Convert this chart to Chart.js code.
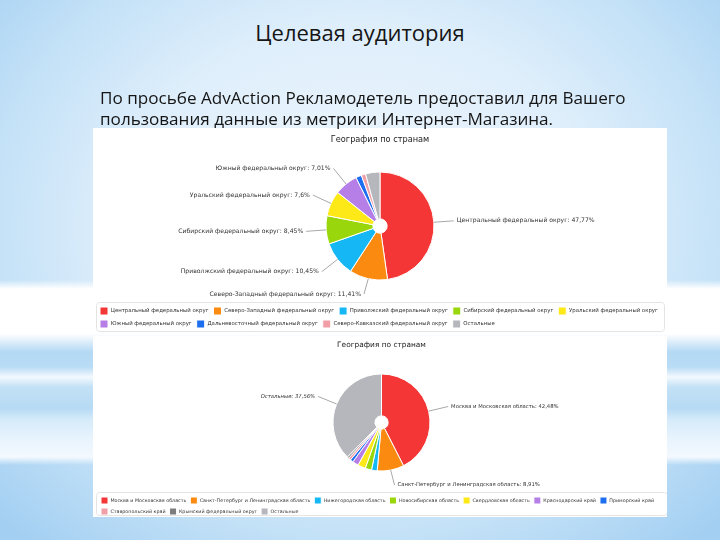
<!DOCTYPE html>
<html><head><meta charset="utf-8">
<script src="https://cdn.jsdelivr.net/npm/chart.js@4/dist/chart.umd.min.js"></script>
<style>
html,body{margin:0;padding:0}
body{width:720px;height:540px;overflow:hidden;position:relative;
background:
 linear-gradient(to bottom, rgba(255,255,255,0) 0px, rgba(255,255,255,0) 280px, #fff 289px, #fff 334px, #dcedfa 342px, #b4d9f4 352px, #b9dcf5 367px, #f3f9fe 377px, #c3e1f6 387px, #b6daf4 408px, #d6ebfa 420px, #e9f4fd 440px, #f3f9fe 457px, rgba(255,255,255,0) 465px, rgba(255,255,255,0) 100%),
 radial-gradient(ellipse 70% 78% at 50% 42%, #f1f8fe 0%, #deeefb 48%, #c3e1f7 74%, #a3cff2 100%);
}
#title{position:absolute;left:0;width:720px;top:19px;text-align:center;font:22px/26px "Open Sans";color:#151515;z-index:2}
#para{position:absolute;left:100px;top:87px;font:17.1px/21px "Open Sans";color:#151515;white-space:nowrap;z-index:2}
.panel{position:absolute;left:93px;width:574px;background:#fff}
#p1{top:128px;height:205px}
#p2{top:336px;height:181px}
.cw{position:absolute;left:93px;width:574px;z-index:1}
#w1{top:125px;height:213px}
#w2{top:337px;height:188px}
</style></head>
<body>
<div id="title">Целевая аудитория</div>
<div id="para">По просьбе AdvAction Рекламодетель предоставил для Вашего<br>пользования данные из метрики Интернет-Магазина.</div>
<div class="panel" id="p1"></div>
<div class="panel" id="p2"></div>
<div class="cw" id="w1"><canvas id="c1"></canvas></div>
<div class="cw" id="w2"><canvas id="c2"></canvas></div>
<script>
// ---- data ----
const chartTitle = 'География по странам';
const districts = ['Центральный федеральный округ','Северо-Западный федеральный округ','Приволжский федеральный округ','Сибирский федеральный округ','Уральский федеральный округ','Южный федеральный округ','Дальневосточный федеральный округ','Северо-Кавказский федеральный округ','Остальные'];
const districtShares = [47.77, 11.41, 10.45, 8.45, 7.6, 7.01, 1.7, 1.3, 4.31];
const districtColors = ['#f43636','#fb8b10','#15b8f4','#9ad60c','#fde818','#b67ee7','#1e6fef','#f29ea7','#b5b7bc'];

const subjects = ['Москва и Московская область','Санкт-Петербург и Ленинградская область','Нижегородская область','Новосибирская область','Свердловская область','Краснодарский край','Приморский край','Ставропольский край','Крымский федеральный округ','Остальные'];
const subjectShares = [42.48, 8.91, 1.9, 2.1, 2.6, 2.0, 1.0, 0.8, 0.6, 37.56];
const subjectColors = ['#f43636','#fb8b10','#15b8f4','#9ad60c','#fde818','#b67ee7','#1e6fef','#f29ea7','#7d7d7d','#b5b7bc'];

const FONT = '"DejaVu Sans"';

// ---- plugins ----
const pieLabels = {
  id: 'pieLabels',
  afterDatasetsDraw(chart, args, o) {
    const meta = chart.getDatasetMeta(0);
    const ds = chart.data.datasets[0];
    const labels = chart.data.labels;
    const ctx = chart.ctx;
    ctx.save();
    ctx.strokeStyle = o.lineColor;
    ctx.lineWidth = 1;
    ctx.fillStyle = o.color;
    ctx.textBaseline = 'middle';
    meta.data.forEach((arc, i) => {
      const v = ds.data[i];
      if (v < o.minShare) return;
      const p = arc.getProps(['x','y','startAngle','endAngle','outerRadius'], true);
      const mid = (p.startAngle + p.endAngle) / 2;
      const R = p.outerRadius + o.distance;
      const ex = p.x + Math.cos(mid) * p.outerRadius, ey = p.y + Math.sin(mid) * p.outerRadius;
      const lx = p.x + Math.cos(mid) * R;
      const ly = Math.min(p.y + Math.sin(mid) * R, o.maxY);
      const right = Math.cos(mid) >= 0;
      ctx.beginPath();
      ctx.moveTo(ex, ey);
      ctx.lineTo(lx, ly);
      ctx.stroke();
      ctx.font = (labels[i] === 'Остальные' ? 'italic ' : '') + o.size + 'px ' + FONT;
      ctx.textAlign = right ? 'left' : 'right';
      ctx.fillText(labels[i] + ': ' + String(v).replace('.', ',') + '%', lx + (right ? 3 : -3), ly);
    });
    ctx.restore();
  }
};
const legendFrame = {
  id: 'legendFrame',
  afterDraw(chart, args, o) {
    const L = chart.legend, ctx = chart.ctx;
    ctx.save();
    ctx.strokeStyle = '#e4e4e4';
    ctx.lineWidth = 1;
    ctx.beginPath();
    ctx.roundRect(Math.round(L.left + o.inset) + 0.5, Math.round(L.top + o.top) + 0.5,
      Math.round(L.right - L.left - 2 * o.inset), Math.round(L.height - o.top - o.bottom), 3);
    ctx.stroke();
    ctx.restore();
  }
};

function makePie(id, labels, values, colors, cfg) {
  return new Chart(document.getElementById(id), {
    type: 'doughnut',
    data: { labels, datasets: [{ data: values, backgroundColor: colors, borderColor: '#fff', borderWidth: 1 }] },
    options: {
      responsive: true, maintainAspectRatio: false, animation: false, events: [],
      radius: cfg.radius, cutout: cfg.cutout,
      layout: { padding: cfg.pad },
      plugins: {
        tooltip: { enabled: false },
        title: { display: true, text: chartTitle, color: '#222',
          font: { family: FONT, size: cfg.titleSize, weight: 'normal' }, padding: cfg.titlePad },
        legend: { position: 'bottom', align: 'start',
          labels: { boxWidth: cfg.box, boxHeight: cfg.box, padding: cfg.legPad, color: '#333',
            font: { family: FONT, size: cfg.legSize } } },
        pieLabels: { minShare: 5, distance: 20, size: cfg.labelSize, color: '#333', lineColor: '#a8a8a8', maxY: cfg.maxY },
        legendFrame: cfg.frame
      }
    },
    plugins: [pieLabels, legendFrame]
  });
}

makePie('c1', districts, districtShares, districtColors, {
  radius: 54, cutout: 10, pad: { left: 2, right: 2, top: 0, bottom: 0 },
  titleSize: 8.2, titlePad: { top: 10, bottom: 5.2 },
  box: 8, legPad: 5, legSize: 5.4, labelSize: 6.1, maxY: 169,
  frame: { inset: 1, top: 0, bottom: 7 }
});
makePie('c2', subjects, subjectShares, subjectColors, {
  radius: 48.5, cutout: 9.5, pad: { left: 4, right: 1, top: 0, bottom: 0 },
  titleSize: 7.4, titlePad: { top: 3.6, bottom: 2.5 },
  box: 7, legPad: 4, legSize: 4.8, labelSize: 5.3, maxY: 148,
  frame: { inset: -1, top: -1, bottom: 10 }
});
</script>
</body></html>
